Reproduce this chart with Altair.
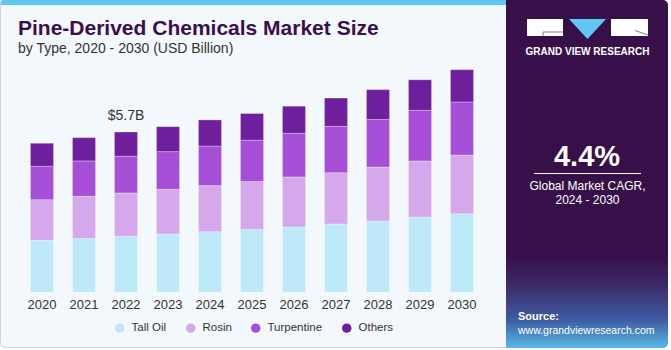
import altair as alt
import pandas as pd

years = ["2020", "2021", "2022", "2023", "2024", "2025", "2026", "2027", "2028", "2029", "2030"]
types = ["Tall Oil", "Rosin", "Turpentine", "Others"]
colors = ["#bde9f9", "#d5a8ec", "#a44fd6", "#6e1f9c"]

tall_oil = [1.84, 1.91, 1.99, 2.06, 2.15, 2.23, 2.32, 2.42, 2.53, 2.67, 2.79]
rosin = [1.45, 1.50, 1.54, 1.60, 1.64, 1.71, 1.78, 1.83, 1.92, 2.00, 2.09]
turpentine = [1.19, 1.26, 1.31, 1.34, 1.41, 1.47, 1.55, 1.65, 1.70, 1.80, 1.89]
others = [0.82, 0.83, 0.86, 0.89, 0.93, 0.95, 0.97, 1.01, 1.06, 1.09, 1.15]
labelled_year = "2022"

series = [tall_oil, rosin, turpentine, others]
rows = []
for i, (t, vals) in enumerate(zip(types, series)):
    for y, v in zip(years, vals):
        rows.append({"year": y, "type": t, "value": v, "idx": i})
df = pd.DataFrame(rows)
totals = df.groupby("year", as_index=False)["value"].sum()
totals["label"] = totals["value"].map(lambda v: f"${v:.1f}B")
totals = totals[totals["year"] == labelled_year]

FONT = "Liberation Sans"
one = alt.Data(values=[{}])

xscale = alt.Scale(domain=years, range=[21, 483], paddingInner=0.45, paddingOuter=0.225)
yscale = alt.Scale(domain=[0, 10], range=[292, 11.3])

card = alt.Chart(one).mark_rect(fill="#f3f8fc", stroke="#cfd3d9", strokeWidth=1, cornerRadius=5).encode(
    x=alt.value(0.5), x2=alt.value(667), y=alt.value(0.5), y2=alt.value(347.5))
stripe = alt.Chart(one).mark_rect(fill="#5ec8f2", cornerRadiusTopLeft=4).encode(
    x=alt.value(0.5), x2=alt.value(510), y=alt.value(0), y2=alt.value(5))
panel = alt.Chart(one).mark_rect(
    fill=alt.Gradient(gradient="linear", x1=0, x2=0, y1=0, y2=1, stops=[
        alt.GradientStop(color="#37104a", offset=0),
        alt.GradientStop(color="#37104a", offset=0.74),
        alt.GradientStop(color="#3c2a68", offset=0.82),
        alt.GradientStop(color="#3d5da3", offset=0.92),
        alt.GradientStop(color="#5ab8e8", offset=1.0)]),
    cornerRadiusTopRight=5, cornerRadiusBottomRight=5).encode(
    x=alt.value(506), x2=alt.value(668), y=alt.value(0), y2=alt.value(348))

bars = alt.Chart(df).mark_bar(stroke="#ffffff", strokeWidth=0.6, strokeOpacity=0.5).encode(
    x=alt.X("year:N", scale=xscale, sort=years,
            axis=alt.Axis(title=None, labelAngle=0, domain=False, ticks=False, labelPadding=6,
                          labelFontSize=13, labelColor="#333333", labelFont=FONT, offset=-58,
                          zindex=2)),
    y=alt.Y("value:Q", stack="zero", scale=yscale, axis=None),
    color=alt.Color("type:N", scale=alt.Scale(domain=types, range=colors), sort=types,
                    legend=alt.Legend(orient="none", legendX=114, legendY=322, direction="horizontal",
                                      title=None, symbolType="circle", symbolSize=90,
                                      symbolStrokeWidth=0, labelFontSize=11.5, labelFont=FONT,
                                      labelColor="#333333", columnPadding=18, labelOffset=6,
                                      zindex=2)),
    order=alt.Order("idx:Q", sort="ascending"),
)

total_label = alt.Chart(totals).mark_text(dy=-9, baseline="bottom", fontSize=14, font=FONT, color="#333333").encode(
    x=alt.X("year:N", scale=xscale, sort=years),
    y=alt.Y("value:Q", scale=yscale),
    text="label:N",
)

def txt(s, x, y, size, color, weight="normal", align="left"):
    return alt.Chart(one).mark_text(align=align, baseline="alphabetic", fontSize=size, fontWeight=weight,
                                    font=FONT, color=color).encode(
        x=alt.value(x), y=alt.value(y), text=alt.value(s))

title = txt("Pine-Derived Chemicals Market Size", 18, 35, 21, "#3a0f4f", "bold")
subtitle = txt("by Type, 2020 - 2030 (USD Billion)", 18, 53, 14, "#333333")

# logo
logo_g = alt.Chart(one).mark_rect(fill="#ffffff").encode(x=alt.value(527), x2=alt.value(563), y=alt.value(19), y2=alt.value(36))
logo_r = alt.Chart(one).mark_rect(fill="#ffffff").encode(x=alt.value(611), x2=alt.value(648), y=alt.value(19), y2=alt.value(36))
logo_g1 = alt.Chart(one).mark_rule(color="#8a7a96", strokeWidth=1).encode(x=alt.value(543), x2=alt.value(563), y=alt.value(32), y2=alt.value(32))
logo_g2 = alt.Chart(one).mark_rule(color="#8a7a96", strokeWidth=1).encode(x=alt.value(543), x2=alt.value(543), y=alt.value(32), y2=alt.value(36))
logo_r1 = alt.Chart(one).mark_rule(color="#8a7a96", strokeWidth=1).encode(x=alt.value(635), x2=alt.value(648), y=alt.value(30.5), y2=alt.value(35))
logo_tri = alt.Chart(one).mark_point(shape="M -1 -0.54 L 1 -0.54 L 0 0.54 Z", filled=True, fill="#5ec8f2",
                                     opacity=1, strokeWidth=0, size=1369).encode(x=alt.value(587.5), y=alt.value(29))
logo_text = txt("GRAND VIEW RESEARCH", 587.5, 55, 10, "#ffffff", "bold", "center")

cagr = txt("4.4%", 587, 166, 29, "#ffffff", "bold", "center")
cagr_line = alt.Chart(one).mark_rule(color="#ffffff", strokeWidth=1).encode(
    x=alt.value(534), x2=alt.value(641), y=alt.value(173.5), y2=alt.value(173.5))
cagr1 = txt("Global Market CAGR,", 587.5, 190, 12, "#ffffff", "normal", "center")
cagr2 = txt("2024 - 2030", 587.5, 204, 12, "#ffffff", "normal", "center")
src1 = txt("Source:", 518, 320, 11, "#ffffff", "bold")
src2 = txt("www.grandviewresearch.com", 518, 334, 10.5, "#ffffff")

chart = alt.layer(
    card, stripe, panel, bars, total_label, title, subtitle,
    logo_g, logo_r, logo_g1, logo_g2, logo_r1, logo_tri, logo_text,
    cagr, cagr_line, cagr1, cagr2, src1, src2,
).properties(
    width=671, height=350, padding=0, autosize=alt.AutoSizeParams(type="none"), background="#ffffff"
).configure_view(stroke=None)

chart.save("out.html", embed_options={"renderer": "svg", "actions": False})
